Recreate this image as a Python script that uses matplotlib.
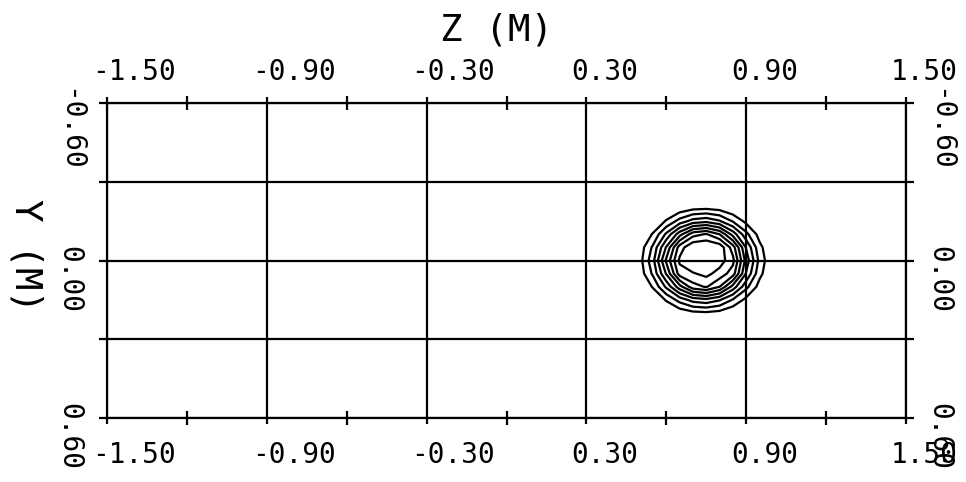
import numpy as np
import matplotlib.pyplot as plt
from matplotlib.transforms import offset_copy, blended_transform_factory

# axis ticks / labels
z_major = [-1.50, -0.90, -0.30, 0.30, 0.90, 1.50]
z_minor = [-1.20, -0.60, 0.00, 0.60, 1.20]
z_labels = ['-1.50', '-0.90', '-0.30', '0.30', '0.90', '1.50']
y_major = [-0.60, -0.30, 0.00, 0.30, 0.60]
y_labelled = [-0.60, 0.00, 0.60]
y_labels = ['-0.60', '0.00', '0.60']

grid_z = [0.45, 0.50, 0.55, 0.60, 0.65, 0.70, 0.75, 0.80, 0.85, 0.90, 0.95, 1.00]
grid_y = [-0.25, -0.20, -0.15, -0.10, -0.05, 0.00, 0.05, 0.10, 0.15, 0.20, 0.25]
field = [
    [0, 0, 0, 0, 0, 0, 0, 0, 0, 0, 0, 0],
    [0, 0, 0, 0, 0.03, 0.07, 0.08, 0.06, 0.01, 0, 0, 0],
    [0, 0, 0.01, 0.11, 0.24, 0.34, 0.37, 0.31, 0.19, 0.07, 0, 0],
    [0, 0, 0.11, 0.32, 0.56, 0.76, 0.81, 0.70, 0.46, 0.23, 0.06, 0],
    [0, 0.04, 0.22, 0.51, 0.85, 0.99, 1.00, 0.97, 0.75, 0.39, 0.13, 0],
    [0, 0.06, 0.27, 0.62, 0.92, 1.00, 1.00, 0.95, 0.83, 0.46, 0.17, 0],
    [0, 0.04, 0.22, 0.51, 0.85, 0.89, 0.93, 0.86, 0.75, 0.39, 0.13, 0],
    [0, 0, 0.11, 0.32, 0.56, 0.76, 0.81, 0.70, 0.46, 0.23, 0.06, 0],
    [0, 0, 0.01, 0.11, 0.24, 0.34, 0.37, 0.31, 0.19, 0.07, 0, 0],
    [0, 0, 0, 0, 0.03, 0.07, 0.08, 0.06, 0.01, 0, 0, 0],
    [0, 0, 0, 0, 0, 0, 0, 0, 0, 0, 0, 0],
]
levels = [0.1, 0.2, 0.3, 0.4, 0.5, 0.6, 0.7, 0.8, 0.9]

plt.rcParams['font.family'] = 'DejaVu Sans Mono'

fig = plt.figure(figsize=(9.66, 4.82), dpi=100)
ax = fig.add_axes([107 / 966, 64 / 482, 799 / 966, 315 / 482])

ax.contour(grid_z, grid_y, np.array(field), levels=levels, colors='black', linewidths=1.6)

ax.set_xlim(-1.5, 1.5)
ax.set_ylim(0.6, -0.6)
ax.set_xticks(z_major)
ax.set_xticks(z_minor, minor=True)
ax.set_yticks(y_major)
ax.grid(True, which='major', color='black', lw=1.6)
ax.tick_params(axis='x', which='major', direction='out', length=4, width=1.6,
               top=True, bottom=True, labelbottom=False, labeltop=False)
ax.tick_params(axis='x', which='minor', direction='inout', length=10, width=1.6,
               top=True, bottom=True)
ax.tick_params(axis='y', which='major', direction='out', length=6, width=1.6,
               left=True, right=True, labelleft=False, labelright=False)
for s in ax.spines.values():
    s.set_linewidth(1.6)

fs = 20
tx = blended_transform_factory(ax.transData, ax.transAxes)
for v, lab in zip(z_major, z_labels):
    ax.text(v, 1, lab, fontsize=fs, ha='left', va='baseline',
            transform=offset_copy(tx, fig=fig, x=-15, y=23, units='dots'))
    ax.text(v, 0, lab, fontsize=fs, ha='left', va='baseline',
            transform=offset_copy(tx, fig=fig, x=-15, y=-45, units='dots'))

ty = blended_transform_factory(ax.transAxes, ax.transData)
for v, lab in zip(y_labelled, y_labels):
    ax.text(0, v, lab, fontsize=fs, rotation=-90, ha='center', va='top',
            transform=offset_copy(ty, fig=fig, x=-38, y=15, units='dots'))
    ax.text(1, v, lab, fontsize=fs, rotation=-90, ha='center', va='top',
            transform=offset_copy(ty, fig=fig, x=33, y=15, units='dots'))

ax.text(0.488, 1, 'Z (M)', fontsize=27, ha='center', va='baseline',
        transform=offset_copy(ax.transAxes, fig=fig, x=0, y=63, units='dots'))
fig.text(25 / 966, 1 - 256 / 482, 'Y (M)', fontsize=27, rotation=-90,
         ha='center', va='center')

plt.savefig('out.png', dpi=100)
